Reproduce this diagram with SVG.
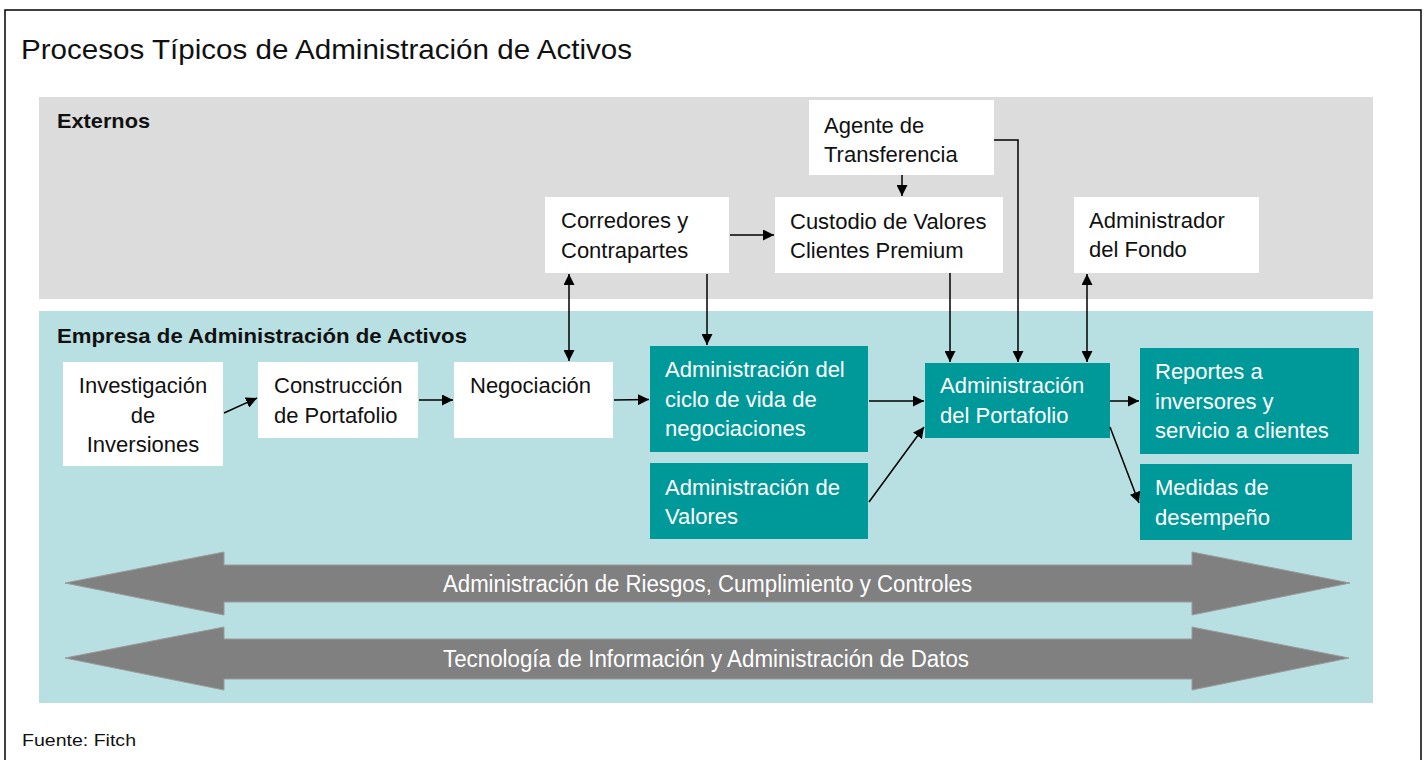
<svg xmlns="http://www.w3.org/2000/svg" width="1425" height="760" viewBox="0 0 1425 760">
<defs>
<style>
.t{font-family:"Liberation Sans",Arial,sans-serif;font-size:22px;fill:#111}
.w{font-family:"Liberation Sans",Arial,sans-serif;font-size:22px;fill:#fff}
.hd{font-family:"Liberation Sans",Arial,sans-serif;font-size:21px;font-weight:bold;fill:#111}
.wb{fill:#fff}
.tb{fill:#009999}
.c{stroke:#000;stroke-width:1.5;fill:none}
.big{fill:#808080;stroke:#9a9a9a;stroke-width:1}
.bt{font-family:"Liberation Sans",Arial,sans-serif;font-size:23px;fill:#fff}
</style>
<marker id="ah" viewBox="0 0 10 10" refX="10" refY="5" markerWidth="11" markerHeight="11" markerUnits="userSpaceOnUse" orient="auto-start-reverse">
<path d="M0,0 L10,5 L0,10 z" fill="#000"/>
</marker>
</defs>
<rect x="0" y="0" width="1425" height="760" fill="#fff"/>
<rect x="5" y="10" width="1416" height="760" fill="#fff" stroke="#000" stroke-width="1.5"/>
<text x="21" y="59" font-family="'Liberation Sans',Arial,sans-serif" font-size="28" fill="#111" textLength="611" lengthAdjust="spacingAndGlyphs">Procesos Típicos de Administración de Activos</text>

<g id="externos">
<rect x="39" y="97" width="1334" height="202" fill="#dcdcdc"/>
<text class="hd" x="57" y="128" textLength="93" lengthAdjust="spacingAndGlyphs">Externos</text>
</g>
<g id="empresa">
<rect x="39" y="311" width="1334" height="392" fill="#b8dfe2"/>
<text class="hd" x="57" y="343" textLength="410" lengthAdjust="spacingAndGlyphs">Empresa de Administración de Activos</text>
</g>

<g id="agente">
<rect class="wb" x="809" y="100" width="185" height="75"/>
<text class="t" x="824" y="133">Agente de</text>
<text class="t" x="824" y="162">Transferencia</text>
</g>
<g id="corredores">
<rect class="wb" x="545" y="197" width="184" height="76"/>
<text class="t" x="561" y="228">Corredores y</text>
<text class="t" x="561" y="258">Contrapartes</text>
</g>
<g id="custodio">
<rect class="wb" x="775" y="197" width="228" height="76"/>
<text class="t" x="790" y="229">Custodio de Valores</text>
<text class="t" x="790" y="258">Clientes Premium</text>
</g>
<g id="fondo">
<rect class="wb" x="1074" y="197" width="185" height="76"/>
<text class="t" x="1089" y="228">Administrador</text>
<text class="t" x="1089" y="257">del Fondo</text>
</g>

<g id="investigacion">
<rect class="wb" x="63" y="362" width="160" height="104"/>
<text class="t" x="143" y="393" text-anchor="middle">Investigación</text>
<text class="t" x="143" y="423" text-anchor="middle">de</text>
<text class="t" x="143" y="452" text-anchor="middle">Inversiones</text>
</g>
<g id="construccion">
<rect class="wb" x="258" y="362" width="160" height="76"/>
<text class="t" x="274" y="393">Construcción</text>
<text class="t" x="274" y="423">de Portafolio</text>
</g>
<g id="negociacion">
<rect class="wb" x="454" y="362" width="159" height="76"/>
<text class="t" x="470" y="393">Negociación</text>
</g>
<g id="ciclo">
<rect class="tb" x="650" y="346" width="218" height="106"/>
<text class="w" x="665" y="377">Administración del</text>
<text class="w" x="665" y="407">ciclo de vida de</text>
<text class="w" x="665" y="436">negociaciones</text>
</g>
<g id="valores">
<rect class="tb" x="650" y="463" width="218" height="76"/>
<text class="w" x="665" y="495">Administración de</text>
<text class="w" x="665" y="524">Valores</text>
</g>
<g id="portafolio">
<rect class="tb" x="925" y="363" width="185" height="75"/>
<text class="w" x="940" y="393">Administración</text>
<text class="w" x="940" y="423">del Portafolio</text>
</g>
<g id="reportes">
<rect class="tb" x="1140" y="348" width="219" height="106"/>
<text class="w" x="1155" y="379">Reportes a</text>
<text class="w" x="1155" y="409">inversores y</text>
<text class="w" x="1155" y="438">servicio a clientes</text>
</g>
<g id="medidas">
<rect class="tb" x="1140" y="464" width="212" height="76"/>
<text class="w" x="1155" y="495">Medidas de</text>
<text class="w" x="1155" y="525">desempeño</text>
</g>

<g id="riesgos">
<polygon class="big" points="65,583 224,552 224,565 1192,565 1192,552 1350,583 1192,615 1192,602 224,602 224,615"/>
<text class="bt" x="443" y="592" textLength="529" lengthAdjust="spacingAndGlyphs">Administración de Riesgos, Cumplimiento y Controles</text>
</g>
<g id="tecnologia">
<polygon class="big" points="65,658 224,627 224,639 1192,639 1192,627 1349,658 1192,690 1192,679 224,679 224,690"/>
<text class="bt" x="443" y="667" textLength="526" lengthAdjust="spacingAndGlyphs">Tecnología de Información y Administración de Datos</text>
</g>

<g id="connectors">
<line class="c" x1="224" y1="413" x2="257" y2="398" marker-end="url(#ah)"/>
<line class="c" x1="419" y1="400" x2="453" y2="400" marker-end="url(#ah)"/>
<line class="c" x1="614" y1="400" x2="649" y2="399.5" marker-end="url(#ah)"/>
<line class="c" x1="869" y1="401" x2="924" y2="401" marker-end="url(#ah)"/>
<line class="c" x1="869" y1="502" x2="924" y2="427" marker-end="url(#ah)"/>
<line class="c" x1="1110" y1="401" x2="1139" y2="401" marker-end="url(#ah)"/>
<line class="c" x1="1110" y1="427" x2="1139" y2="503" marker-end="url(#ah)"/>
<line class="c" x1="569" y1="274" x2="569" y2="361" marker-start="url(#ah)" marker-end="url(#ah)"/>
<line class="c" x1="707" y1="274" x2="707" y2="345" marker-end="url(#ah)"/>
<line class="c" x1="730" y1="235" x2="774" y2="235" marker-end="url(#ah)"/>
<line class="c" x1="902" y1="175" x2="902" y2="196" marker-end="url(#ah)"/>
<polyline class="c" points="994,140 1018,140 1018,362" marker-end="url(#ah)"/>
<line class="c" x1="950" y1="273" x2="950" y2="362" marker-end="url(#ah)"/>
<line class="c" x1="1087" y1="274" x2="1087" y2="362" marker-start="url(#ah)" marker-end="url(#ah)"/>
</g>

<text x="22" y="746" font-family="'Liberation Sans',Arial,sans-serif" font-size="16" fill="#111" textLength="114" lengthAdjust="spacingAndGlyphs">Fuente:  Fitch</text>
</svg>
